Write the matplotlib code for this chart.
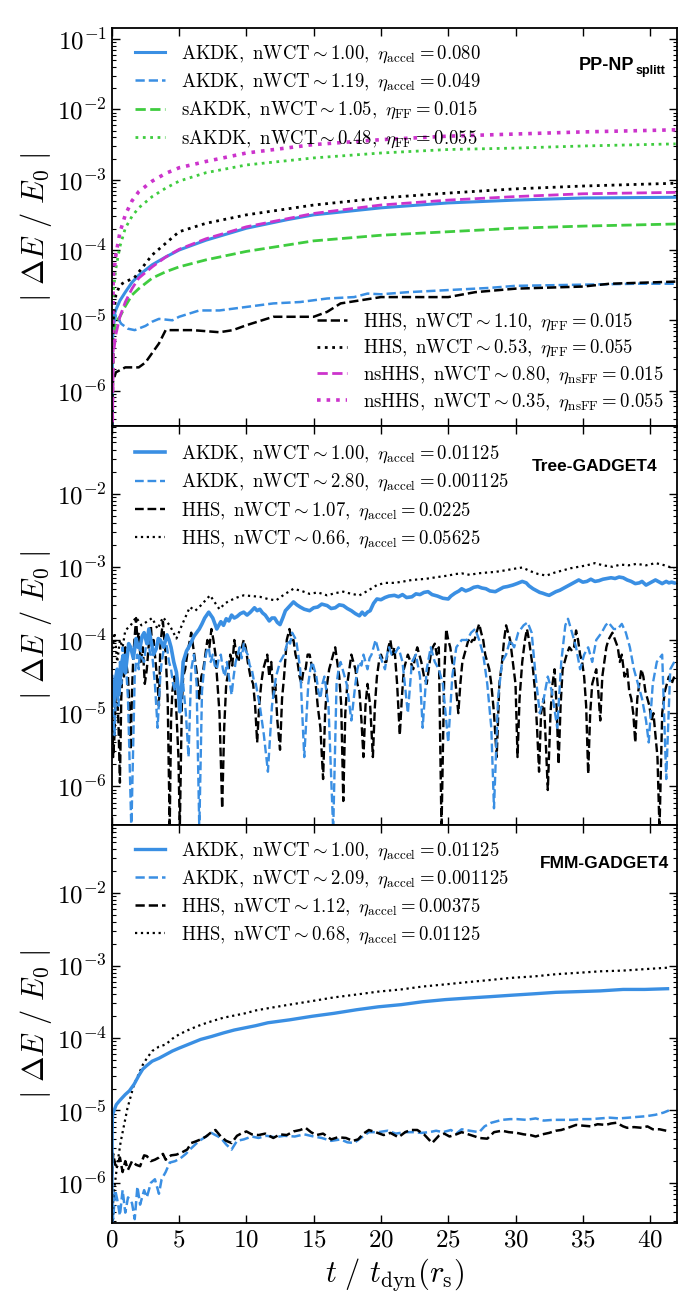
import numpy as np
import matplotlib
matplotlib.use('Agg')
import matplotlib.pyplot as plt
from matplotlib.ticker import LogLocator, NullFormatter, MultipleLocator, FuncFormatter

plt.rcParams['mathtext.fontset'] = 'cm'

BLUE = '#3a8fe3'
GREEN = '#3fcc3f'
MAGENTA = '#cc33cc'

# ---------------- panel 1 : PP-NP_splitt  (log10 |dE/E0|) ----------------
t_akdk_a = [0, 0.05, 0.3, 0.6, 1, 1.5, 2, 3, 4, 5, 7, 10, 13, 15, 20, 25, 30, 35, 41.9]
lg_akdk_a = [-7.5, -5.0, -4.85, -4.72, -4.60, -4.46, -4.36, -4.21, -4.10, -4.0, -3.86, -3.69,
             -3.57, -3.50, -3.40, -3.33, -3.29, -3.26, -3.25]

t_akdk_b = [0, 0.1, 0.3, 0.7, 1.2, 1.7, 2.5, 3, 3.5, 4, 4.5, 5, 6.5, 8, 10, 12, 14, 16, 18, 19,
            20, 22, 25, 28, 30, 33, 36, 39, 41.9]
lg_akdk_b = [-7.5, -5.1, -4.93, -5.05, -5.12, -5.14, -5.08, -5.02, -4.98, -4.99, -5.0, -4.95,
             -4.86, -4.86, -4.81, -4.76, -4.74, -4.69, -4.67, -4.62, -4.63, -4.60, -4.57, -4.54,
             -4.51, -4.50, -4.49, -4.48, -4.48]

t_sakdk_a = [0, 0.1, 0.3, 0.6, 1, 1.5, 2, 3, 4, 5, 7, 10, 15, 20, 25, 30, 35, 41.9]
lg_sakdk_a = [-7.5, -5.25, -5.02, -4.95, -4.80, -4.64, -4.55, -4.40, -4.31, -4.24, -4.14, -4.02,
              -3.87, -3.79, -3.74, -3.69, -3.66, -3.63]

t_sakdk_b = [0, 0.1, 0.3, 0.6, 1, 1.5, 2, 3, 4, 5, 7, 10, 15, 20, 25, 30, 35, 41.9]
lg_sakdk_b = [-7.5, -4.6, -4.26, -3.95, -3.69, -3.52, -3.40, -3.24, -3.12, -3.02, -2.90, -2.79,
              -2.69, -2.62, -2.57, -2.55, -2.52, -2.49]

t_hhs_a = [0, 0.05, 0.3, 1.0, 2.0, 2.5, 3.5, 4.0, 6.0, 8.0, 9, 10, 12, 15, 16, 17, 20, 25, 27,
           30, 35, 37, 41.9]
lg_hhs_a = [-7.5, -5.9, -5.74, -5.67, -5.67, -5.60, -5.33, -5.14, -5.14, -5.17, -5.14, -5.07,
            -4.95, -4.95, -4.88, -4.76, -4.67, -4.67, -4.60, -4.55, -4.52, -4.48, -4.45]

t_hhs_b = [0, 0.1, 0.3, 0.6, 1, 1.65, 3, 5, 7, 10, 15, 20, 25, 30, 35, 41.9]
lg_hhs_b = [-7.5, -5.0, -4.64, -4.50, -4.45, -4.40, -4.07, -3.74, -3.62, -3.50, -3.36, -3.26,
            -3.19, -3.13, -3.09, -3.05]

t_nshhs_a = [0, 0.1, 0.3, 0.6, 1, 1.5, 2, 3, 4, 5, 7, 10, 15, 20, 25, 30, 35, 41.9]
lg_nshhs_a = [-7.5, -5.5, -5.2, -4.95, -4.74, -4.55, -4.40, -4.24, -4.10, -3.99, -3.84, -3.67,
              -3.48, -3.36, -3.29, -3.24, -3.20, -3.18]

t_nshhs_b = [0, 0.1, 0.3, 0.6, 1, 1.5, 2, 3, 4, 5, 7, 10, 15, 20, 25, 30, 35, 41.9]
lg_nshhs_b = [-7.5, -4.4, -4.07, -3.75, -3.5, -3.30, -3.17, -3.02, -2.91, -2.83, -2.74, -2.62,
              -2.50, -2.43, -2.38, -2.35, -2.32, -2.29]

# ---------------- panel 2 : Tree-GADGET4 ----------------
t_tree_akdk_a = [0.0, 0.1, 0.2, 0.3, 0.4, 0.5, 0.6, 0.7, 0.84, 1.0, 1.1, 1.25, 1.4, 1.6, 1.8,
                 1.95, 2.1, 2.25, 2.4, 2.6, 2.75, 2.9, 3.1, 3.3, 3.45, 3.6, 3.85, 4.1, 4.25, 4.4,
                 4.6, 4.8, 4.95, 5.05, 5.2, 5.3, 5.55, 5.8, 6.1, 6.3, 6.5, 6.7, 6.9, 7.05, 7.2,
                 7.35, 7.5, 7.8, 8.1, 8.3, 8.5, 8.7, 8.9, 9.1, 9.3, 9.55, 9.8, 10.05, 10.3,
                 10.6, 10.8, 11.0, 11.2, 11.4, 11.7, 11.9, 12.1, 12.3, 12.5, 12.7, 12.9, 13.2,
                 13.5, 13.75, 14.0, 14.3, 14.7, 15.0, 15.3, 15.6, 16.0, 16.3, 16.6, 16.9, 17.2,
                 17.5, 17.8, 18.1, 18.4, 18.6, 18.8, 19.0, 19.2, 19.45, 19.7, 20.0, 20.3, 20.6,
                 21.0, 21.3, 21.6, 21.9, 22.3, 22.6, 22.9, 23.2, 23.5, 23.8, 24.2, 24.6, 25.0,
                 25.2, 25.5, 25.8, 26.0, 26.3, 26.6, 26.9, 27.2, 27.5, 27.8, 28.1, 28.5, 28.8,
                 29.1, 29.4, 29.8, 30.1, 30.5, 30.8, 31.0, 31.3, 31.5, 31.8, 32.0, 32.3, 32.5,
                 32.8, 33.0, 33.3, 33.5, 33.8, 34.1, 34.4, 34.7, 35.0, 35.3, 35.6, 35.9, 36.2,
                 36.5, 36.8, 37.1, 37.4, 37.7, 38.0, 38.3, 38.6, 38.9, 39.2, 39.4, 39.7, 39.9,
                 40.2, 40.4, 40.7, 40.9, 41.2, 41.4, 41.6, 41.8]
lg_tree_akdk_a = [-4.5, -4.9, -4.8, -4.5, -4.4, -4.75, -4.6, -4.35, -4.21, -4.45, -4.3, -4.05,
                  -4.1, -4.25, -3.98, -4.1, -4.1, -3.95, -3.9, -4.05, -3.85, -4.0, -4.2, -4.12,
                  -3.98, -4.0, -4.1, -3.93, -4.0, -4.1, -4.3, -4.44, -4.7, -4.98, -4.6, -4.3,
                  -4.15, -4.07, -3.95, -3.9, -3.85, -3.78, -3.7, -3.66, -3.62, -3.66, -3.7, -3.85,
                  -3.75, -3.8, -3.71, -3.74, -3.66, -3.7, -3.68, -3.64, -3.62, -3.66, -3.62,
                  -3.56, -3.6, -3.58, -3.63, -3.66, -3.74, -3.7, -3.70, -3.76, -3.79, -3.7, -3.6,
                  -3.54, -3.48, -3.52, -3.55, -3.58, -3.60, -3.56, -3.55, -3.51, -3.53, -3.57,
                  -3.56, -3.52, -3.53, -3.57, -3.6, -3.64, -3.67, -3.62, -3.66, -3.62, -3.6,
                  -3.5, -3.44, -3.45, -3.42, -3.4, -3.39, -3.41, -3.38, -3.42, -3.41, -3.37,
                  -3.38, -3.35, -3.34, -3.38, -3.40, -3.43, -3.44, -3.4, -3.36, -3.33, -3.3,
                  -3.33, -3.31, -3.28, -3.27, -3.29, -3.30, -3.33, -3.34, -3.31, -3.28, -3.27,
                  -3.25, -3.23, -3.2, -3.22, -3.26, -3.3, -3.32, -3.35, -3.36, -3.38, -3.39,
                  -3.36, -3.34, -3.32, -3.3, -3.27, -3.24, -3.21, -3.18, -3.21, -3.2, -3.17,
                  -3.2, -3.19, -3.17, -3.16, -3.15, -3.16, -3.14, -3.15, -3.18, -3.2, -3.23,
                  -3.22, -3.2, -3.25, -3.23, -3.2, -3.18, -3.21, -3.23, -3.2, -3.22, -3.21,
                  -3.22]

t_tree_akdk_b = [0.0, 0.1, 0.2, 0.3, 0.4, 0.5, 0.6, 0.7, 0.8, 0.9, 1.0, 1.1, 1.2, 1.45, 1.7,
                 1.8, 1.9, 2.0, 2.1, 2.25, 2.4, 2.55, 2.7, 2.85, 3.0, 3.1, 3.2, 3.4, 3.6, 3.7,
                 3.8, 3.95, 4.1, 4.25, 4.4, 4.55, 4.7, 4.85, 5.0, 5.15, 5.3, 5.5, 5.7, 5.9, 6.0,
                 6.1, 6.3, 6.5, 6.7, 6.8, 6.9, 7.05, 7.2, 7.35, 7.5, 7.65, 7.8, 7.95, 8.1, 8.25,
                 8.4, 8.55, 8.7, 8.9, 9.05, 9.2, 9.35, 9.5, 9.65, 9.8, 9.95, 10.1, 10.25, 10.4,
                 10.55, 10.7, 11.0, 11.3, 11.6, 11.9, 12.05, 12.2, 12.35, 12.5, 12.65, 12.8,
                 12.95, 13.1, 13.25, 13.4, 13.55, 13.7, 14.0, 14.3, 14.6, 14.75, 14.9, 15.05,
                 15.2, 15.35, 15.5, 15.65, 15.8, 15.95, 16.1, 16.45, 16.7, 16.85, 17.0, 17.15,
                 17.3, 17.45, 17.6, 17.8, 18.1, 18.25, 18.4, 18.55, 18.7, 18.85, 19.0, 19.15,
                 19.3, 19.45, 19.6, 19.75, 19.9, 20.1, 20.3, 20.45, 20.6, 20.8, 21.0, 21.3,
                 21.6, 22.0, 22.3, 22.6, 22.9, 23.1, 23.4, 23.7, 24.0, 24.3, 24.6, 25.0, 25.3,
                 25.6, 26.0, 26.4, 26.7, 27.0, 27.3, 27.6, 27.9, 28.2, 28.4, 28.7, 29.0, 29.3,
                 29.6, 29.9, 30.2, 30.6, 30.9, 31.2, 31.5, 31.8, 32.1, 32.4, 32.7, 33.1, 33.4,
                 33.7, 33.9, 34.2, 34.5, 34.8, 35.1, 35.4, 35.7, 36.0, 36.4, 36.7, 36.9, 37.3,
                 37.6, 37.9, 38.2, 38.5, 38.8, 39.1, 39.4, 39.7, 39.9, 40.2, 40.5, 40.9, 41.2,
                 41.5, 41.8]
lg_tree_akdk_b = [-4.6, -5.0, -5.3, -4.7, -4.5, -4.9, -4.3, -4.6, -4.1, -4.4, -4.2, -4.5, -4.8,
                  -6.6, -4.5, -4.3, -4.2, -4.4, -4.1, -4.25, -4.3, -4.05, -4.0, -4.2, -4.2, -4.4,
                  -4.6, -5.2, -4.5, -4.3, -4.2, -4.0, -4.1, -4.3, -4.4, -4.6, -4.7, -4.5, -4.9,
                  -4.7, -4.6, -5.0, -5.6, -4.4, -4.3, -4.2, -4.6, -6.6, -4.7, -4.5, -4.3, -4.15,
                  -4.1, -4.3, -4.2, -4.35, -4.4, -4.25, -4.2, -4.4, -4.5, -4.3, -4.5, -4.75,
                  -4.5, -4.3, -4.2, -4.1, -4.25, -4.05, -4.15, -4.2, -4.35, -4.4, -4.55, -4.6,
                  -4.9, -5.3, -5.8, -4.9, -4.7, -4.5, -4.4, -4.3, -4.25, -4.2, -4.1, -4.0, -4.05,
                  -3.9, -3.95, -4.0, -4.4, -5.6, -4.6, -4.4, -4.3, -4.4, -4.5, -4.7, -4.8, -4.6,
                  -4.5, -4.7, -4.9, -6.6, -4.6, -4.4, -4.3, -4.4, -4.5, -4.6, -4.8, -5.1, -4.6,
                  -4.4, -4.3, -4.35, -4.2, -4.3, -4.4, -4.25, -4.2, -4.1, -4.0, -4.1, -4.2, -4.3,
                  -4.4, -4.2, -4.1, -4.2, -4.2, -4.1, -4.3, -5.0, -4.3, -4.2, -4.5, -5.2, -4.4,
                  -4.1, -4.3, -4.4, -4.6, -5.4, -4.5, -4.1, -4.0, -4.0, -3.9, -3.85, -4.0, -4.2,
                  -4.6, -5.2, -6.3, -4.8, -4.3, -4.2, -4.0, -4.1, -3.9, -3.8, -3.76, -3.9, -4.5,
                  -5.0, -4.8, -4.5, -4.7, -5.2, -4.3, -3.8, -3.71, -3.9, -4.1, -4.4, -4.2, -4.1,
                  -4.3, -4.0, -3.9, -3.8, -3.76, -3.85, -3.85, -3.78, -3.9, -4.1, -4.4, -4.6,
                  -4.8, -5.1, -5.4, -4.6, -4.3, -4.2, -5.9, -4.4, -4.3]

t_tree_hhs_a = [0.0, 0.1, 0.2, 0.3, 0.4, 0.5, 0.6, 0.7, 0.8, 0.9, 1.0, 1.1, 1.2, 1.3, 1.4, 1.5,
                1.6, 1.7, 1.8, 1.9, 2.0, 2.15, 2.3, 2.45, 2.6, 2.75, 2.9, 3.0, 3.1, 3.25, 3.4,
                3.5, 3.6, 3.7, 3.8, 3.9, 4.0, 4.15, 4.3, 4.4, 4.5, 4.65, 4.8, 4.95, 5.05, 5.2,
                5.3, 5.45, 5.6, 5.75, 5.9, 6.05, 6.2, 6.35, 6.5, 6.65, 6.8, 6.95, 7.1, 7.25,
                7.4, 7.55, 7.7, 7.85, 8.0, 8.2, 8.35, 8.5, 8.65, 8.8, 8.95, 9.1, 9.25, 9.4,
                9.6, 9.8, 9.95, 10.1, 10.3, 10.5, 10.65, 10.8, 10.95, 11.1, 11.25, 11.4, 11.55,
                11.7, 11.85, 12.0, 12.15, 12.3, 12.5, 12.65, 12.8, 13.0, 13.2, 13.35, 13.5,
                13.65, 13.8, 13.95, 14.1, 14.25, 14.4, 14.55, 14.7, 14.85, 15.0, 15.15, 15.3,
                15.5, 15.7, 15.85, 16.0, 16.15, 16.3, 16.45, 16.6, 16.75, 16.9, 17.05, 17.2,
                17.35, 17.5, 17.65, 17.8, 17.95, 18.1, 18.25, 18.4, 18.55, 18.7, 18.85, 19.0,
                19.2, 19.4, 19.55, 19.7, 19.85, 20.0, 20.2, 20.4, 20.55, 20.7, 20.85, 21.0,
                21.2, 21.4, 21.55, 21.7, 21.85, 22.0, 22.2, 22.4, 22.55, 22.7, 22.85, 23.0,
                23.2, 23.4, 23.55, 23.7, 23.85, 24.0, 24.15, 24.3, 24.5, 24.7, 24.85, 25.0,
                25.15, 25.3, 25.45, 25.6, 25.75, 25.9, 26.05, 26.2, 26.35, 26.5, 26.65, 26.8,
                26.95, 27.1, 27.3, 27.45, 27.6, 27.75, 27.9, 28.05, 28.2, 28.4, 28.6, 28.8,
                29.0, 29.15, 29.3, 29.45, 29.6, 29.8, 30.0, 30.15, 30.3, 30.5, 30.7, 30.85,
                31.0, 31.15, 31.3, 31.45, 31.6, 31.75, 31.9, 32.1, 32.25, 32.4, 32.6, 32.75,
                32.9, 33.05, 33.2, 33.35, 33.5, 33.65, 33.8, 34.0, 34.2, 34.35, 34.5, 34.65,
                34.8, 34.95, 35.1, 35.25, 35.4, 35.55, 35.7, 35.85, 36.0, 36.15, 36.3, 36.45,
                36.6, 36.75, 36.9, 37.05, 37.2, 37.4, 37.6, 37.75, 37.9, 38.1, 38.3, 38.45,
                38.6, 38.75, 38.9, 39.05, 39.2, 39.35, 39.5, 39.65, 39.8, 39.95, 40.1, 40.25,
                40.4, 40.55, 40.7, 40.9, 41.1, 41.25, 41.4, 41.6, 41.8]
lg_tree_hhs_a = [-4.8, -5.6, -5.3, -4.6, -4.7, -5.2, -5.95, -4.8, -4.3, -4.5, -4.1, -4.35, -4.5,
                 -4.9, -5.5, -4.7, -4.2, -3.95, -3.7, -4.0, -3.9, -4.3, -4.1, -4.6, -4.4, -4.05,
                 -3.8, -4.1, -4.0, -4.3, -4.6, -4.9, -4.1, -3.9, -3.75, -4.0, -4.2, -4.8, -6.6,
                 -5.1, -4.7, -4.5, -5.0, -5.6, -6.6, -4.9, -4.5, -4.4, -4.2, -4.05, -3.9, -4.1,
                 -4.3, -4.5, -4.8, -4.5, -4.4, -4.2, -4.0, -4.1, -3.85, -4.0, -4.2, -4.6, -5.0,
                 -6.3, -5.2, -4.6, -4.45, -4.2, -4.35, -4.0, -4.2, -4.3, -4.15, -4.0, -4.1,
                 -4.3, -4.5, -4.6, -4.9, -5.4, -4.9, -4.6, -4.4, -4.3, -4.2, -4.5, -4.3, -4.8,
                 -4.6, -5.1, -5.5, -4.8, -4.5, -4.0, -3.85, -4.0, -4.0, -4.2, -4.3, -4.5, -4.6,
                 -4.4, -4.4, -4.2, -4.2, -4.35, -4.4, -4.6, -4.9, -5.2, -5.9, -5.0, -4.6, -4.4,
                 -4.3, -4.2, -4.1, -4.3, -4.5, -4.9, -6.2, -5.0, -4.6, -4.4, -4.2, -4.3, -4.4,
                 -4.6, -4.7, -5.1, -5.6, -4.9, -4.6, -4.9, -5.6, -4.9, -4.5, -4.3, -4.2, -4.3,
                 -4.3, -4.1, -4.0, -4.2, -4.1, -4.6, -5.3, -4.8, -4.4, -4.3, -4.2, -4.3, -4.4,
                 -4.2, -4.1, -4.2, -4.3, -4.5, -4.6, -4.4, -4.2, -4.1, -4.05, -4.2, -4.1, -6.6,
                 -4.5, -3.85, -4.0, -4.1, -4.3, -4.4, -4.7, -5.0, -4.6, -4.3, -4.2, -4.1, -4.0,
                 -4.05, -4.0, -4.0, -3.9, -3.78, -3.9, -4.0, -4.2, -4.3, -4.4, -4.6, -5.0, -5.6,
                 -4.6, -4.3, -4.0, -3.8, -3.9, -4.0, -4.3, -4.6, -5.6, -4.8, -4.3, -4.0, -3.85,
                 -4.0, -4.2, -4.4, -4.7, -5.2, -5.8, -5.0, -4.8, -5.4, -6.05, -5.0, -4.6, -4.4,
                 -4.9, -5.7, -4.9, -4.4, -4.3, -4.2, -4.1, -4.15, -4.1, -3.87, -4.0, -4.2, -4.3,
                 -4.5, -4.9, -5.83, -5.0, -4.6, -4.5, -4.4, -4.7, -5.1, -4.5, -4.3, -4.1, -4.0,
                 -3.95, -3.9, -4.0, -4.1, -4.3, -4.2, -4.5, -4.4, -4.7, -4.8, -5.0, -5.4, -4.8,
                 -4.6, -4.4, -4.5, -4.7, -4.8, -4.9, -5.1, -5.0, -5.3, -5.6, -6.6, -5.0, -4.7,
                 -4.6, -4.5, -4.6, -4.5]

t_tree_hhs_b = [0.0, 0.2, 0.4, 0.6, 0.8, 1.0, 1.4, 1.8, 2.2, 2.6, 3.0, 3.4, 3.8, 4.3, 4.8, 5.2,
                5.8, 6.2, 6.5, 7.0, 7.3, 7.7, 8.0, 8.4, 8.8, 9.3, 9.8, 10.4, 11.0, 11.6, 12.2,
                12.8, 13.5, 14.1, 14.7, 15.3, 16.0, 16.6, 17.2, 17.8, 18.4, 19.0, 19.7, 20.3,
                21.0, 21.7, 22.3, 23.0, 23.5, 24.2, 25.0, 25.5, 26.0, 26.6, 27.2, 27.8, 28.5,
                29.2, 29.8, 30.5, 31.1, 31.7, 32.3, 32.9, 33.5, 34.1, 34.7, 35.3, 35.9, 36.5,
                37.2, 37.8, 38.4, 39.0, 39.7, 40.4, 40.9, 41.4, 41.8]
lg_tree_hhs_b = [-4.2, -3.9, -4.3, -4.0, -4.1, -3.87, -3.8, -3.69, -3.8, -3.75, -3.7, -3.85,
                 -3.69, -3.8, -3.98, -3.8, -3.55, -3.6, -3.55, -3.45, -3.39, -3.5, -3.58, -3.5,
                 -3.46, -3.42, -3.39, -3.40, -3.41, -3.44, -3.46, -3.38, -3.30, -3.33, -3.37,
                 -3.35, -3.39, -3.36, -3.34, -3.37, -3.39, -3.33, -3.25, -3.22, -3.22, -3.2,
                 -3.18, -3.17, -3.16, -3.14, -3.12, -3.1, -3.09, -3.11, -3.09, -3.08, -3.07,
                 -3.05, -3.03, -3.01, -3.06, -3.1, -3.12, -3.08, -3.05, -3.02, -3.0, -2.98,
                 -2.95, -2.98, -3.0, -2.97, -2.98, -2.96, -2.98, -2.95, -2.97, -3.0, -3.02]

# ---------------- panel 3 : FMM-GADGET4 ----------------
t_fmm_akdk_a = [0, 0.02, 0.05, 0.33, 0.6, 1.0, 1.3, 1.65, 2.0, 2.3, 2.6, 3.0, 3.5, 4.0, 4.5, 5.0,
                5.8, 6.6, 7.4, 8.3, 9.1, 9.9, 10.7, 11.6, 13.2, 14.9, 16.5, 18.2, 19.8, 21.5,
                23.1, 24.8, 26.4, 28.1, 29.7, 31.4, 33.0, 34.7, 36.3, 38.0, 39.6, 41.3]
lg_fmm_akdk_a = [-7.5, -5.3, -5.06, -4.92, -4.86, -4.78, -4.73, -4.64, -4.52, -4.43, -4.38,
                 -4.32, -4.28, -4.23, -4.18, -4.14, -4.08, -4.02, -3.98, -3.93, -3.89, -3.86,
                 -3.83, -3.79, -3.75, -3.70, -3.66, -3.61, -3.57, -3.54, -3.50, -3.47, -3.45,
                 -3.43, -3.41, -3.39, -3.37, -3.36, -3.35, -3.33, -3.33, -3.32]

t_fmm_akdk_b = [0.0, 0.1, 0.25, 0.4, 0.6, 0.8, 1.0, 1.2, 1.5, 1.7, 1.9, 2.1, 2.4, 2.6, 2.9, 3.2,
                3.5, 3.7, 4.0, 4.3, 4.7, 5.1, 5.5, 5.8, 6.2, 6.5, 7.0, 7.4, 7.8, 8.1, 8.5, 8.9,
                9.3, 9.8, 10.4, 10.9, 11.5, 12.1, 12.8, 13.6, 14.3, 15.0, 15.6, 16.3, 17.0, 17.5,
                18.0, 18.5, 19.1, 19.8, 20.5, 21.1, 21.8, 22.4, 23.0, 23.6, 24.1, 24.6, 25.2,
                25.6, 26.0, 26.6, 27.3, 27.7, 28.2, 28.6, 29.0, 29.6, 30.1, 30.8, 31.5, 32.1,
                32.8, 33.5, 34.2, 34.9, 35.6, 36.3, 37.0, 37.7, 38.4, 39.0, 39.7, 40.4, 41.0,
                41.4]
lg_fmm_akdk_b = [-6.2, -6.5, -6.1, -6.23, -6.45, -6.1, -6.41, -6.2, -6.28, -6.5, -6.05, -6.3,
                 -6.1, -6.2, -6.0, -5.95, -6.15, -5.95, -5.85, -5.72, -5.7, -5.66, -5.6, -5.54,
                 -5.47, -5.42, -5.36, -5.31, -5.35, -5.38, -5.47, -5.54, -5.42, -5.4, -5.36,
                 -5.38, -5.35, -5.37, -5.35, -5.36, -5.33, -5.36, -5.38, -5.42, -5.4, -5.44,
                 -5.45, -5.38, -5.3, -5.3, -5.28, -5.32, -5.3, -5.3, -5.31, -5.3, -5.28, -5.3,
                 -5.27, -5.32, -5.26, -5.28, -5.3, -5.22, -5.17, -5.15, -5.13, -5.12, -5.12,
                 -5.13, -5.11, -5.14, -5.13, -5.13, -5.13, -5.12, -5.12, -5.11, -5.1, -5.11,
                 -5.1, -5.09, -5.08, -5.06, -5.03, -5.0]

t_fmm_hhs_a = [0.0, 0.1, 0.25, 0.4, 0.6, 0.8, 1.0, 1.2, 1.5, 1.8, 2.1, 2.4, 2.6, 2.9, 3.2, 3.5,
               3.8, 4.0, 4.4, 4.8, 5.2, 5.6, 5.9, 6.2, 6.6, 7.0, 7.4, 7.7, 8.1, 8.5, 8.9, 9.3,
               9.6, 10.0, 10.4, 10.9, 11.4, 12.0, 12.5, 13.0, 13.5, 14.0, 14.4, 14.8, 15.2, 15.7,
               16.3, 16.8, 17.4, 17.9, 18.3, 18.7, 19.1, 19.6, 20.2, 20.7, 21.3, 21.8, 22.2,
               22.7, 23.2, 23.8, 24.3, 24.7, 25.1, 25.6, 26.0, 26.5, 27.0, 27.3, 27.9, 28.4,
               29.0, 29.5, 30.1, 30.6, 31.1, 31.5, 32.0, 32.5, 33.0, 33.4, 33.9, 34.5, 35.0,
               35.6, 36.1, 36.7, 37.1, 37.5, 38.0, 38.3, 38.8, 39.4, 39.8, 40.2, 40.7, 41.2]
lg_fmm_hhs_a = [-5.9, -5.6, -5.75, -5.77, -5.65, -5.85, -5.7, -5.82, -5.7, -5.75, -5.77, -5.62,
                -5.63, -5.7, -5.68, -5.65, -5.6, -5.68, -5.62, -5.61, -5.58, -5.54, -5.45,
                -5.43, -5.4, -5.36, -5.3, -5.27, -5.36, -5.42, -5.45, -5.35, -5.32, -5.29,
                -5.33, -5.34, -5.32, -5.38, -5.33, -5.34, -5.29, -5.27, -5.24, -5.3, -5.34,
                -5.32, -5.40, -5.37, -5.38, -5.42, -5.4, -5.32, -5.27, -5.3, -5.34, -5.31,
                -5.37, -5.3, -5.27, -5.27, -5.33, -5.45, -5.35, -5.32, -5.36, -5.33, -5.3,
                -5.33, -5.36, -5.38, -5.39, -5.3, -5.28, -5.3, -5.31, -5.33, -5.34, -5.36,
                -5.33, -5.31, -5.28, -5.27, -5.24, -5.2, -5.21, -5.22, -5.19, -5.2, -5.18,
                -5.17, -5.22, -5.24, -5.23, -5.24, -5.22, -5.26, -5.26, -5.28]

t_fmm_hhs_b = [0, 0.1, 0.4, 0.66, 1.16, 1.65, 2.0, 2.3, 2.6, 3.0, 3.5, 4.0, 4.5, 5.0, 5.8, 6.6,
               7.4, 8.3, 9.1, 9.9, 10.7, 11.6, 13.2, 14.9, 16.5, 18.2, 19.8, 21.5, 23.1, 24.8,
               26.4, 28.1, 29.7, 31.4, 33.0, 34.7, 36.3, 38.0, 39.6, 41.3]
lg_fmm_hhs_b = [-7.5, -6.2, -5.75, -5.43, -4.97, -4.64, -4.50, -4.37, -4.28, -4.18, -4.12,
                -4.09, -4.01, -3.95, -3.88, -3.82, -3.77, -3.72, -3.69, -3.66, -3.62, -3.59,
                -3.54, -3.49, -3.44, -3.40, -3.36, -3.33, -3.29, -3.26, -3.23, -3.20, -3.17,
                -3.15, -3.12, -3.10, -3.08, -3.07, -3.05, -3.03]


def lin(v):
    return 10.0 ** np.asarray(v)


fig, axes = plt.subplots(3, 1, figsize=(6.99, 12.97), dpi=100, sharex=True)
fig.subplots_adjust(left=0.160, right=0.9685, top=0.9784, bottom=0.0571, hspace=0)
ax1, ax2, ax3 = axes

leg_kw = dict(fontsize=13.5, frameon=False, handlelength=1.6, labelspacing=0.36,
              borderaxespad=0.0, handletextpad=0.9)

# panel 1
h1 = ax1.plot(t_akdk_a, lin(lg_akdk_a), '-', color=BLUE, lw=2.2,
              label=r'$\mathrm{AKDK,\ nWCT} \sim 1.00,\ \eta_{\rm accel} = 0.080$')[0]
h2 = ax1.plot(t_akdk_b, lin(lg_akdk_b), '--', color=BLUE, lw=1.8,
              label=r'$\mathrm{AKDK,\ nWCT} \sim 1.19,\ \eta_{\rm accel} = 0.049$')[0]
h3 = ax1.plot(t_sakdk_a, lin(lg_sakdk_a), '--', color=GREEN, lw=2.0,
              label=r'$\mathrm{sAKDK,\ nWCT} \sim 1.05,\ \eta_{\rm FF} = 0.015$')[0]
h4 = ax1.plot(t_sakdk_b, lin(lg_sakdk_b), ':', color=GREEN, lw=2.0,
              label=r'$\mathrm{sAKDK,\ nWCT} \sim 0.48,\ \eta_{\rm FF} = 0.055$')[0]
h5 = ax1.plot(t_hhs_a, lin(lg_hhs_a), '--', color='black', lw=1.8,
              label=r'$\mathrm{HHS,\ nWCT} \sim 1.10,\ \eta_{\rm FF} = 0.015$')[0]
h6 = ax1.plot(t_hhs_b, lin(lg_hhs_b), ':', color='black', lw=2.0,
              label=r'$\mathrm{HHS,\ nWCT} \sim 0.53,\ \eta_{\rm FF} = 0.055$')[0]
h7 = ax1.plot(t_nshhs_a, lin(lg_nshhs_a), '--', color=MAGENTA, lw=2.0,
              label=r'$\mathrm{nsHHS,\ nWCT} \sim 0.80,\ \eta_{\rm nsFF} = 0.015$')[0]
h8 = ax1.plot(t_nshhs_b, lin(lg_nshhs_b), ':', color=MAGENTA, lw=2.6,
              label=r'$\mathrm{nsHHS,\ nWCT} \sim 0.35,\ \eta_{\rm nsFF} = 0.055$')[0]
leg_a = ax1.legend(handles=[h1, h2, h3, h4], loc='upper left', bbox_to_anchor=(0.027, 0.98),
                   **leg_kw)
ax1.add_artist(leg_a)
ax1.legend(handles=[h5, h6, h7, h8], loc='lower right', bbox_to_anchor=(0.99, 0.015),
           **dict(leg_kw, labelspacing=0.28))
ax1.set_ylim(3.1e-7, 0.144)

# panel 2
ax2.plot(t_tree_hhs_a, lin(lg_tree_hhs_a), '--', color='black', lw=1.7,
         label=r'$\mathrm{HHS,\ nWCT} \sim 1.07,\ \eta_{\rm accel} = 0.0225$')
ax2.plot(t_tree_akdk_b, lin(lg_tree_akdk_b), '--', color=BLUE, lw=1.7,
         label=r'$\mathrm{AKDK,\ nWCT} \sim 2.80,\ \eta_{\rm accel} = 0.001125$')
ax2.plot(t_tree_hhs_b, lin(lg_tree_hhs_b), ':', color='black', lw=1.6,
         label=r'$\mathrm{HHS,\ nWCT} \sim 0.66,\ \eta_{\rm accel} = 0.05625$')
ax2.plot(t_tree_akdk_a, lin(lg_tree_akdk_a), '-', color=BLUE, lw=2.6,
         label=r'$\mathrm{AKDK,\ nWCT} \sim 1.00,\ \eta_{\rm accel} = 0.01125$')
hh, ll = ax2.get_legend_handles_labels()
order = [3, 1, 0, 2]
ax2.legend([hh[i] for i in order], [ll[i] for i in order], loc='upper left',
           bbox_to_anchor=(0.027, 0.975), **leg_kw)
ax2.set_ylim(3.0e-7, 0.083)

# panel 3
ax3.plot(t_fmm_akdk_b, lin(lg_fmm_akdk_b), '--', color=BLUE, lw=1.8,
         label=r'$\mathrm{AKDK,\ nWCT} \sim 2.09,\ \eta_{\rm accel} = 0.001125$')
ax3.plot(t_fmm_hhs_a, lin(lg_fmm_hhs_a), '--', color='black', lw=1.8,
         label=r'$\mathrm{HHS,\ nWCT} \sim 1.12,\ \eta_{\rm accel} = 0.00375$')
ax3.plot(t_fmm_hhs_b, lin(lg_fmm_hhs_b), ':', color='black', lw=1.6,
         label=r'$\mathrm{HHS,\ nWCT} \sim 0.68,\ \eta_{\rm accel} = 0.01125$')
ax3.plot(t_fmm_akdk_a, lin(lg_fmm_akdk_a), '-', color=BLUE, lw=2.4,
         label=r'$\mathrm{AKDK,\ nWCT} \sim 1.00,\ \eta_{\rm accel} = 0.01125$')
hh, ll = ax3.get_legend_handles_labels()
order = [3, 0, 1, 2]
ax3.legend([hh[i] for i in order], [ll[i] for i in order], loc='upper left',
           bbox_to_anchor=(0.027, 0.98), **leg_kw)
ax3.set_ylim(2.8e-7, 0.088)

yfmt = FuncFormatter(lambda v, p: r'$10^{%d}$' % int(round(np.log10(v))))
xfmt = FuncFormatter(lambda v, p: r'$%d$' % int(round(v)))
for ax in axes:
    ax.set_yscale('log')
    ax.set_xlim(0, 42)
    ax.xaxis.set_major_locator(MultipleLocator(5))
    ax.xaxis.set_major_formatter(xfmt)
    ax.yaxis.set_major_locator(LogLocator(base=10, numticks=20))
    ax.yaxis.set_major_formatter(yfmt)
    ax.yaxis.set_minor_locator(LogLocator(base=10, subs=np.arange(2, 10), numticks=20))
    ax.yaxis.set_minor_formatter(NullFormatter())
    ax.tick_params(which='both', direction='in', top=True, right=True, labelsize=18)
    ax.tick_params(which='major', length=6, width=1)
    ax.tick_params(which='minor', length=3, width=0.8)
    for sp in ax.spines.values():
        sp.set_linewidth(1.3)
    ax.set_ylabel(r'$|\ \Delta E\ /\ E_0\ |$', fontsize=22, labelpad=2)

ax3.set_xlabel(r'$t\ /\ t_{\rm dyn}(r_{\rm s})$', fontsize=22, labelpad=3)

# code labels
sans = dict(family=['Liberation Sans', 'DejaVu Sans'], weight='bold', color='black')
ax1.text(0.925, 0.905, 'PP-NP', transform=ax1.transAxes, ha='right', va='center',
         fontsize=13, **sans)
ax1.text(0.927, 0.893, 'splitt', transform=ax1.transAxes, ha='left', va='center',
         fontsize=9, **sans)
ax2.text(0.965, 0.90, 'Tree-GADGET4', transform=ax2.transAxes, ha='right', va='center',
         fontsize=12.5, **sans)
ax3.text(0.986, 0.9025, 'FMM-GADGET4', transform=ax3.transAxes, ha='right', va='center',
         fontsize=12.5, **sans)

fig.savefig('out.png', dpi=100)
